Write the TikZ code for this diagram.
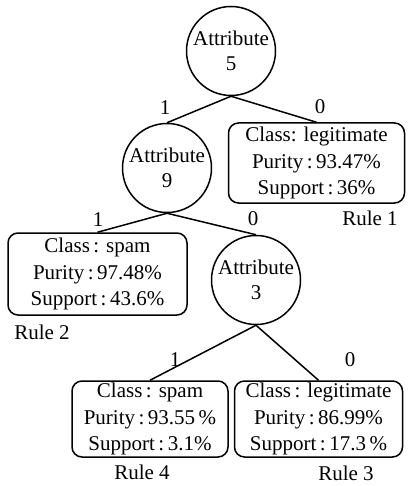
\documentclass[tikz,border=0pt]{standalone}
\usepackage{fontspec}
\setmainfont{Liberation Serif}
\begin{document}
\begin{tikzpicture}[x=1pt,y=-1pt,
  attr/.style={circle,draw,line width=1.5pt,minimum size=89pt,inner sep=0pt,align=center,
    font=\fontsize{21}{25}\selectfont},
  leaf/.style={draw,line width=1.5pt,rounded corners=10pt,inner sep=0pt,align=center,
    font=\fontsize{21}{26.5}\selectfont},
  edge/.style={line width=1.5pt},
  lbl/.style={font=\fontsize{21}{24}\selectfont,inner sep=0pt}]
\useasboundingbox (0,0) rectangle (408,486);

% decision nodes
\node[attr] (a5) at (231,51) {Attribute\\5};
\node[attr] (a9) at (167,168) {Attribute\\9};
\node[attr] (a3) at (256,280) {Attribute\\3};

% leaves
\node[leaf,minimum width=176pt,minimum height=80pt] (r1) at (316.5,163)
  {Class: legitimate\\Purity\,:\,93.47\%\\Support\,:\,36\%};
\node[leaf,minimum width=179pt,minimum height=82pt] (r2) at (97.5,274)
  {Class\,: spam\\Purity\,:\,97.48\%\\Support\,:\,43.6\%};
\node[leaf,minimum width=156pt,minimum height=76pt] (r4) at (150,419)
  {Class\,: spam\\Purity\,:\,93.55\,\%\\Support\,:\,3.1\%};
\node[leaf,minimum width=168pt,minimum height=76pt] (r3) at (318.5,419)
  {Class\,: legitimate\\Purity\,:\,86.99\%\\Support\,:\,17.3\,\%};

% branches
\draw[edge] (a5.south) -- (a9.north);
\draw[edge] (a5.south) -- (r1.north);
\draw[edge] (a9.south) -- (r2.north);
\draw[edge] (a9.south) -- (a3.north);
\draw[edge] (a3.south) -- (r4.north);
\draw[edge] (a3.south) -- (r3.north);

% branch values
\node[lbl] (b1) at (165,108) {1};
\node[lbl] (b2) at (320,107) {0};
\node[lbl] (b3) at (98,220) {1};
\node[lbl] (b4) at (253,219) {0};
\node[lbl] (b5) at (175,360) {1};
\node[lbl] (b6) at (350,360) {0};

% rule names
\node[lbl] (n1) at (370,218) {Rule 1};
\node[lbl] (n2) at (42,332) {Rule 2};
\node[lbl] (n4) at (142,472) {Rule 4};
\node[lbl] (n3) at (346,473) {Rule 3};
\end{tikzpicture}
\end{document}
